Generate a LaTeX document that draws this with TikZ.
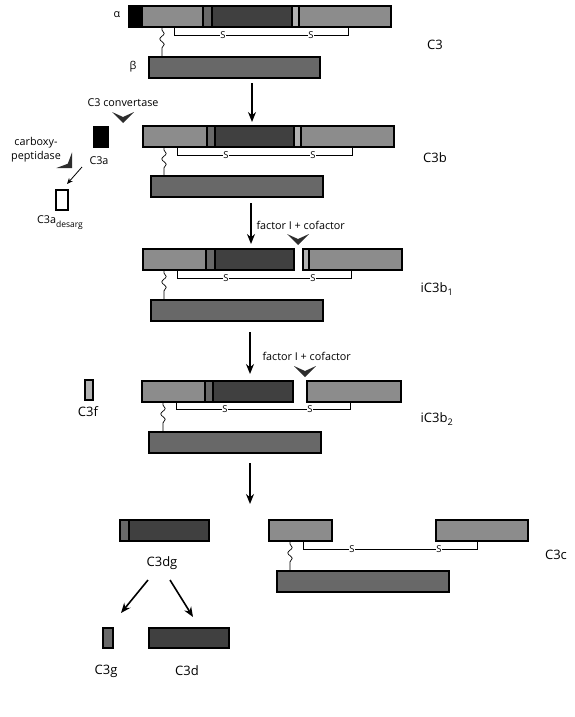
\documentclass[tikz,border=0pt]{standalone}
\usepackage{fontspec}
\setmainfont{Open Sans}
\usetikzlibrary{arrows.meta,decorations.pathmorphing}
\definecolor{glight}{RGB}{140,140,140}
\definecolor{gmed}{RGB}{105,105,105}
\definecolor{gdark}{RGB}{64,64,64}
\definecolor{gvlight}{RGB}{178,178,178}
\definecolor{gbeta}{RGB}{104,104,104}
\definecolor{chevfill}{RGB}{45,45,45}

\begin{document}
\begin{tikzpicture}[x=1pt,y=-1pt,>=Stealth,
 seg/.style={draw,line width=1.1pt,inner sep=0pt,outer sep=0pt,anchor=north west,minimum height=21pt},
 lt/.style={seg,fill=glight},md/.style={seg,fill=gmed},dk/.style={seg,fill=gdark},
 vl/.style={seg,fill=gvlight},bt/.style={seg,fill=gbeta},
 lbl/.style={font=\fontsize{13}{15}\selectfont},
 note/.style={font=\fontsize{10.8}{13}\selectfont,align=center},
 bond/.style={line width=0.9pt},
 sulf/.style={fill=white,inner sep=0.3pt,font=\fontsize{9.5}{9.5}\selectfont},
 wiggle/.style={line width=0.7pt,decorate,decoration={snake,amplitude=2.2pt,segment length=11pt,pre length=3pt,post length=4pt}},
 steparrow/.style={->,line width=1.6pt,>={Stealth[length=10pt,width=8pt]}},
 chev/.pic={\fill[chevfill] (0,0)--(-11,-11)--(0,-6)--(11,-11)--cycle;}]
\useasboundingbox (0,0) rectangle (575,717);
% C3
\node[seg,fill=black,minimum width=13] (c3blk) at (129,6) {};
\node[lt,minimum width=61] (c3l1) at (142,6) {};
\node[md,minimum width=9] (c3m) at (203,6) {};
\node[dk,minimum width=80] (c3d) at (212,6) {};
\node[vl,minimum width=7] (c3v) at (292,6) {};
\node[lt,minimum width=92] (c3l2) at (299,6) {};
\node[bt,minimum width=171] (c3beta) at (149,57) {};
\draw[bond] (174,27) |- (348,35) -- (348,27);
\node[sulf] at (223,35) {S}; \node[sulf] at (311,35) {S};
\draw[wiggle] (162,27) -- (162,57);
\node[note] (alpha) at (117,15) {α};
\node[note] (beta) at (133,67) {β};
\node[lbl] (c3lab) at (435,45) {C3};
% C3b
\node[lt,minimum width=64] (c3bl1) at (143,126) {};
\node[md,minimum width=8] (c3bm) at (207,126) {};
\node[dk,minimum width=79] (c3bd) at (215,126) {};
\node[vl,minimum width=7] (c3bv) at (294,126) {};
\node[lt,minimum width=93] (c3bl2) at (301,126) {};
\node[bt,minimum width=172] (c3bbeta) at (151,176) {};
\draw[bond] (177,147) |- (352,155) -- (352,147);
\node[sulf] at (226,155) {S}; \node[sulf] at (313,155) {S};
\draw[wiggle] (164,147) -- (164,176);
\node[lbl] (c3blab) at (435,158) {C3b};
\node[note] (conv) at (123,103) {C3 convertase};
\pic at (123,123) {chev};
\node[seg,fill=black,minimum width=14,minimum height=20] (c3a) at (94,127) {};
\node[note] (c3alab) at (99,161) {C3a};
\node[note,font=\fontsize{10.8}{14}\selectfont] (cpep) at (36,150) {carboxy-\\peptidase};
\pic[rotate=45] at (72,168) {chev};
\node[seg,fill=white,line width=2pt,minimum width=12,minimum height=20] (c3ades) at (55.5,189.5) {};
\node[note] (c3adeslab) at (60,223) {C3a\raisebox{-4pt}{\fontsize{8.5}{9}\selectfont desarg}};
\coordinate (cpa) at (82,167); \coordinate (cpb) at (67,184);
\draw[->,line width=0.8pt,>={Stealth[length=6pt,width=5pt]}] (cpa) -- (cpb);
% iC3b1
\node[lt,minimum width=63] (i1l1) at (143,249) {};
\node[md,minimum width=9] (i1m) at (206,249) {};
\node[dk,minimum width=79] (i1d) at (215,249) {};
\node[vl,minimum width=6] (i1v) at (303,249) {};
\node[lt,minimum width=93] (i1l2) at (309,249) {};
\node[bt,minimum width=172] (i1beta) at (151,300) {};
\draw[bond] (177,270) |- (351,278) -- (351,270);
\node[sulf] at (226,278) {S}; \node[sulf] at (313,278) {S};
\draw[wiggle] (164,270) -- (164,300);
\node[lbl] (i1lab) at (437,289) {iC3b\textsubscript{1}};
\node[note,anchor=west] (fac1) at (253,225) {factor I + cofactor};
\pic at (298,245) {chev};
% iC3b2
\node[lt,minimum width=63] (i2l1) at (142,381) {};
\node[md,minimum width=8] (i2m) at (205,381) {};
\node[dk,minimum width=80] (i2d) at (213,381) {};
\node[lt,minimum width=94] (i2l2) at (307,381) {};
\node[bt,minimum width=172] (i2beta) at (149,432) {};
\draw[bond] (176,402) |- (350,409) -- (350,402);
\node[sulf] at (225,409) {S}; \node[sulf] at (310,409) {S};
\draw[wiggle] (163,402) -- (163,432);
\node[lbl] (i2lab) at (437,419) {iC3b\textsubscript{2}};
\node[note,anchor=west] (fac2) at (259,356) {factor I + cofactor};
\pic at (305,377) {chev};
\node[vl,minimum width=8,minimum height=20] (c3f) at (85,380) {};
\node[lbl] (c3flab) at (88,412) {C3f};
% products
\node[md,minimum width=9] (dgm) at (120,520) {};
\node[dk,minimum width=80] (dgd) at (129,520) {};
\node[lbl] (c3dglab) at (162,563) {C3dg};
\node[md,minimum width=10,minimum height=20] (c3g) at (103,628) {};
\node[dk,minimum width=80,minimum height=20] (c3dd) at (149,628) {};
\node[lbl] (c3glab) at (106,671) {C3g};
\node[lbl] (c3dlab) at (187,671) {C3d};
\node[lt,minimum width=63] (ccl1) at (269,520) {};
\node[lt,minimum width=92] (ccl2) at (436,520) {};
\node[bt,minimum width=172] (ccbeta) at (277,571) {};
\draw[bond] (303,541) |- (477,549) -- (477,541);
\node[sulf] at (352,549) {S}; \node[sulf] at (439,549) {S};
\draw[wiggle] (290,541) -- (290,571);
\node[lbl] (c3clab) at (556,555) {C3c};
% reaction arrows
\coordinate (s1) at (252,83); \coordinate (e1) at (252,122);
\coordinate (s2) at (251,203); \coordinate (e2) at (251,244);
\coordinate (s3) at (250,332); \coordinate (e3) at (250,374);
\coordinate (s4) at (250,463); \coordinate (e4) at (250,504);
\coordinate (s5) at (148,580); \coordinate (e5) at (121,613);
\coordinate (s6) at (170,580); \coordinate (e6) at (193,617);
\draw[steparrow] (s1) -- (e1);
\draw[steparrow] (s2) -- (e2);
\draw[steparrow] (s3) -- (e3);
\draw[steparrow] (s4) -- (e4);
\draw[steparrow] (s5) -- (e5);
\draw[steparrow] (s6) -- (e6);
\end{tikzpicture}
\end{document}
